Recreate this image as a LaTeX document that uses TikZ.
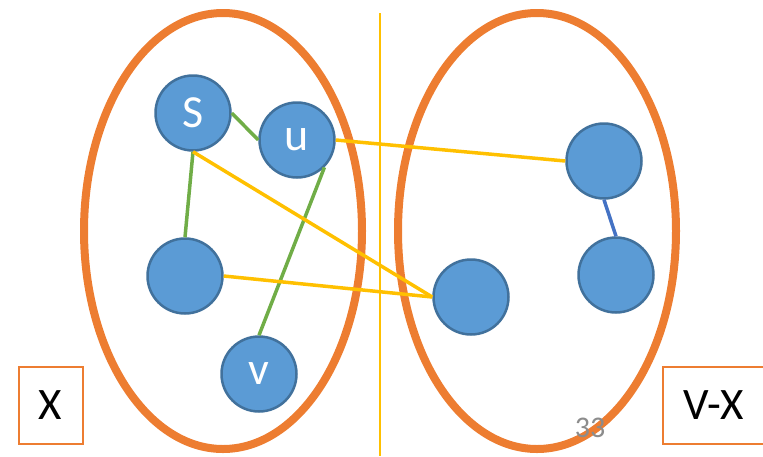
\documentclass[tikz,border=0pt]{standalone}
\usepackage{fontspec}
\setmainfont{Carlito}
\definecolor{ellor}{HTML}{ED7D31}
\definecolor{nodefill}{HTML}{5B9BD5}
\definecolor{nodeline}{HTML}{41719C}
\definecolor{egreen}{HTML}{70AD47}
\definecolor{eyellow}{HTML}{FFC000}
\definecolor{eblue}{HTML}{4472C4}
\definecolor{pgnum}{HTML}{8C8C8C}
\tikzset{
  vert/.style={circle, fill=nodefill, draw=nodeline, line width=2.5pt, minimum size=75pt, inner sep=0pt, text=white, font=\fontsize{46}{46}\selectfont},
  setell/.style={draw=ellor, line width=8pt},
  greenedge/.style={draw=egreen, line width=3.5pt},
  yellowedge/.style={draw=eyellow, line width=3.5pt},
  blueedge/.style={draw=eblue, line width=3.5pt},
  labelbox/.style={draw=ellor, line width=2pt, fill=white, inner sep=0pt, font=\fontsize{45}{45}\selectfont},
}
\begin{document}
\begin{tikzpicture}[x=1pt, y=-1pt]
\useasboundingbox (0,0) rectangle (763,456);
% sets
\draw[setell] (223,231) ellipse [x radius=139, y radius=218];
\draw[setell] (537,231) ellipse [x radius=139, y radius=218];
% divider
\coordinate (divtop) at (380,13);
\coordinate (divbot) at (380,456);
\draw[eyellow, line width=1.5pt] (divtop) -- (divbot);
% vertices
\node[vert] (s) at (193,113) {S};
\node[vert] (u) at (297,140) {u};
\node[vert] (a) at (185,276) {};
\node[vert] (v) at (259,374) {v};
\node[vert] (c) at (471,297) {};
\node[vert] (r1) at (604,161) {};
\node[vert] (r2) at (616,275) {};
% edges
\draw[greenedge] (s.east) -- (u.west);
\draw[greenedge] (s.south) -- (a.north);
\draw[greenedge] (u.south east) -- (v.north);
\draw[yellowedge] (s.south) -- (c.west);
\draw[yellowedge] (a.east) -- (c.west);
\draw[yellowedge] (u.east) -- (r1.west);
\draw[blueedge] (r1.south) -- (r2.north);
% label boxes
\node[labelbox, minimum width=64pt, minimum height=77pt] (xbox) at (50.5,405.5) {X};
\node[labelbox, minimum width=102pt, minimum height=77pt] (vxbox) at (714,405.5) {V-X};
% page number
\node[text=pgnum, font=\fontsize{30}{30}\selectfont, inner sep=0pt] (pg) at (590,428) {33};
\end{tikzpicture}
\end{document}
